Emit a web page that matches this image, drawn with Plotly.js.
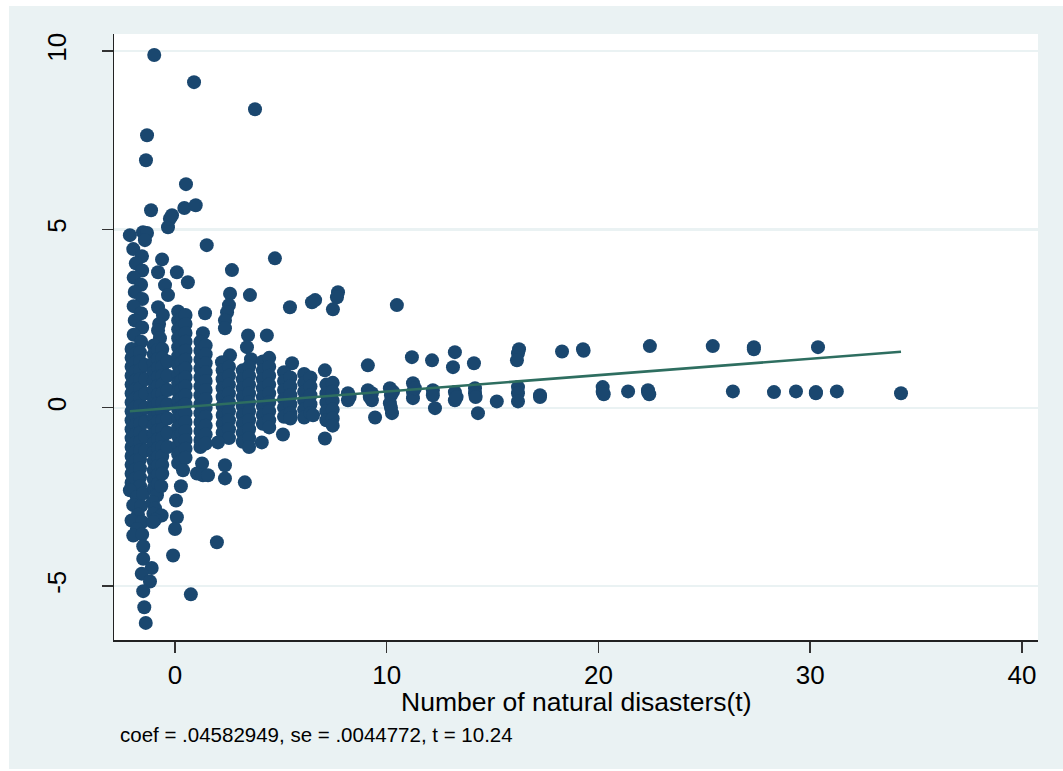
<!DOCTYPE html>
<html>
<head>
<meta charset="utf-8">
<script src="https://cdn.plot.ly/plotly-3.0.1.min.js"></script>
<style>
  html, body { margin: 0; padding: 0; background: #ffffff; }
  #chart { position: absolute; left: 9px; top: 6px; width: 1054px; height: 763px; }
</style>
</head>
<body>
<div id="chart"></div>
<script>
// ---------- data ----------
// outliers
const outX = [-0.98, 0.90, 3.78, -1.32, -1.37, 0.52, -1.13, 0.44, 0.98, -0.33, -0.24, -0.14, 1.50, 2.69, 4.72];
const outY = [9.89, 9.13, 8.37, 7.64, 6.94, 6.27, 5.54, 5.60, 5.68, 5.06, 5.30, 5.40, 4.56, 3.86, 4.19];

// column around x = -1.8
const colAx = [-2.13,-1.51,-1.32,-1.42,-1.97,-1.56,-1.85,-1.55,-1.95,-1.60,-1.90,-1.55,-1.95,-1.60,-1.90,-1.55,-1.95,-1.60,
  -2.05,-2.05,-2.05,-2.05,-2.05,-2.05,-2.05,-2.05,-2.05,-2.05,-2.05,-2.05,-2.05,-2.05,-2.05,-2.05,
  -1.85,-1.85,-1.85,-1.85,-1.85,-1.85,-1.85,-1.85,-1.85,-1.85,-1.85,-1.85,-1.85,-1.85,-1.85,
  -1.65,-1.65,-1.65,-1.65,-1.65,-1.65,-1.65,-1.65,-1.65,-1.65,-1.65,-1.65,-1.65,-1.65,-1.65,-1.65,
  -1.40,-1.40,-1.40,-1.40,-1.40,-1.40,-1.40,
  -2.13,-1.80,-1.50,-1.97,-1.60,-1.75,-2.05,-1.55,-1.80,-1.97,-1.55,-1.50,-1.50,-1.10,-1.57,-1.18,-1.50,-1.45,-1.38];
const colAy = [4.84,4.92,4.90,4.70,4.45,4.25,4.05,3.85,3.65,3.45,3.25,3.05,2.85,2.65,2.45,2.25,2.05,1.85,
  1.65,1.40,1.15,0.90,0.65,0.40,0.15,-0.10,-0.35,-0.60,-0.85,-1.10,-1.35,-1.60,-1.85,-2.10,
  1.52,1.27,1.02,0.77,0.52,0.27,0.02,-0.23,-0.48,-0.73,-0.98,-1.23,-1.48,-1.73,-1.98,
  1.55,1.30,1.05,0.80,0.55,0.30,0.05,-0.20,-0.45,-0.70,-0.95,-1.20,-1.45,-1.70,-1.95,-2.20,
  1.20,0.80,0.40,0.00,-0.40,-0.80,-1.20,
  -2.31,-2.50,-2.40,-2.73,-2.75,-3.00,-3.16,-3.20,-3.40,-3.58,-3.55,-3.88,-4.23,-4.49,-4.65,-4.87,-5.14,-5.59,-6.03];

// column around x = -0.7
const colBx = [-0.61,-0.80,-0.47,-0.33,-0.80,-0.57,-0.75,-0.80,-0.71,
  -1.00,-1.00,-1.00,-1.00,-1.00,-1.00,-1.00,-1.00,-1.00,-1.00,-1.00,-1.00,-1.00,-1.00,-1.00,-1.00,-1.00,
  -0.80,-0.80,-0.80,-0.80,-0.80,-0.80,-0.80,-0.80,-0.80,-0.80,-0.80,-0.80,-0.80,-0.80,-0.80,-0.80,
  -0.60,-0.60,-0.60,-0.60,-0.60,-0.60,-0.60,-0.60,-0.60,-0.60,-0.60,-0.60,-0.60,-0.60,-0.60,
  -0.35,-0.35,-0.35,-0.35,-0.35,-0.35,-0.35,
  -0.85,-1.05,-0.94,-1.02,-0.63,-0.94,-1.04,-0.65];
const colBy = [4.16,3.80,3.44,3.16,2.82,2.60,2.35,2.17,1.95,
  1.75,1.50,1.25,1.00,0.75,0.50,0.25,0.00,-0.25,-0.50,-0.75,-1.00,-1.25,-1.50,-1.75,-2.00,-2.25,
  1.62,1.37,1.12,0.87,0.62,0.37,0.12,-0.13,-0.38,-0.63,-0.88,-1.13,-1.38,-1.63,-1.88,-2.13,
  1.65,1.40,1.15,0.90,0.65,0.40,0.15,-0.10,-0.35,-0.60,-0.85,-1.10,-1.35,-1.60,-1.85,
  1.30,0.90,0.50,0.10,-0.30,-0.70,-1.10,
  -2.45,-2.65,-2.82,-2.97,-3.02,-3.14,-3.20,-2.20];

// column around x = 0.3
const colCx = [0.09,0.61,
  0.15,0.15,0.15,0.15,0.15,0.15,0.15,0.15,0.15,0.15,0.15,0.15,0.15,0.15,0.15,0.15,0.15,0.15,
  0.32,0.32,0.32,0.32,0.32,0.32,0.32,0.32,0.32,0.32,0.32,0.32,0.32,0.32,0.32,0.32,0.32,
  0.50,0.50,0.50,0.50,0.50,0.50,0.50,0.50,0.50,0.50,0.50,0.50,0.50,0.50,0.50,0.50,0.50,
  0.38,0.28,0.05,0.09,0.00,-0.09,0.75];
const colCy = [3.80,3.52,
  2.70,2.45,2.20,1.95,1.70,1.45,1.20,0.95,0.70,0.45,0.20,-0.05,-0.30,-0.55,-0.80,-1.05,-1.30,-1.55,
  2.52,2.27,2.02,1.77,1.52,1.27,1.02,0.77,0.52,0.27,0.02,-0.23,-0.48,-0.73,-0.98,-1.23,-1.48,
  2.60,2.35,2.10,1.85,1.60,1.35,1.10,0.85,0.60,0.35,0.10,-0.15,-0.40,-0.65,-0.90,-1.15,-1.40,
  -1.75,-2.20,-2.60,-3.07,-3.40,-4.14,-5.23];

// column around x = 1.3
const colDx = [1.42,1.32,
  1.20,1.20,1.20,1.20,1.20,1.20,1.20,1.20,1.20,1.20,1.20,1.20,1.20,
  1.45,1.45,1.45,1.45,1.45,1.45,1.45,1.45,1.45,1.45,1.45,1.45,
  1.28,1.04,1.32,1.56];
const colDy = [2.65,2.09,
  1.85,1.60,1.35,1.10,0.85,0.60,0.35,0.10,-0.15,-0.40,-0.65,-0.90,-1.10,
  1.75,1.50,1.25,1.00,0.75,0.50,0.25,0.00,-0.25,-0.50,-0.75,-1.00,
  -1.56,-1.84,-1.89,-1.89];

// column around x = 2.4
const colEx = [2.60,2.55,2.46,2.36,2.36,2.60,2.22,
  2.25,2.25,2.25,2.25,2.25,2.25,2.25,2.25,
  2.55,2.55,2.55,2.55,2.55,2.55,2.55,2.55,2.55,
  2.03,2.36,2.36,1.98];
const colEy = [3.20,2.88,2.68,2.45,2.23,1.47,1.28,
  1.05,0.80,0.55,0.30,0.05,-0.20,-0.45,-0.70,
  1.15,0.90,0.65,0.40,0.15,-0.10,-0.35,-0.60,-0.85,
  -0.97,-1.61,-1.98,-3.77];

// column around x = 3.35
const colFx = [3.54,3.45,3.40,3.59,
  3.20,3.20,3.20,3.20,3.20,3.20,3.20,3.20,3.20,
  3.50,3.50,3.50,3.50,3.50,3.50,3.50,3.50,3.50,3.50,
  3.30];
const colFy = [3.16,2.03,1.70,1.36,
  1.05,0.80,0.55,0.30,0.05,-0.20,-0.45,-0.70,-0.95,
  1.15,0.90,0.65,0.40,0.15,-0.10,-0.35,-0.60,-0.85,-1.10,
  -2.09];

// column around x = 4.3
const colGx = [4.34,
  4.15,4.15,4.15,4.15,4.15,4.15,4.15,4.15,
  4.45,4.45,4.45,4.45,4.45,4.45,4.45,4.45,4.45,
  4.10];
const colGy = [2.03,
  1.30,1.05,0.80,0.55,0.30,0.05,-0.20,-0.45,
  1.40,1.15,0.90,0.65,0.40,0.15,-0.10,-0.35,-0.55,
  -0.97];

// column around x = 5.3
const colHx = [5.43,5.53,
  5.15,5.15,5.15,5.15,5.15,5.15,
  5.45,5.45,5.45,5.45,5.45,5.45,
  5.10];
const colHy = [2.82,1.25,
  1.00,0.75,0.50,0.25,0.00,-0.25,
  0.85,0.60,0.35,0.10,-0.15,-0.30,
  -0.75];

// column around x = 6.3
const colIx = [6.47,6.62,
  6.10,6.10,6.10,6.10,6.10,6.10,
  6.40,6.40,6.40,6.40,6.40,6.52];
const colIy = [2.96,3.02,
  0.95,0.70,0.45,0.20,-0.05,-0.27,
  0.85,0.60,0.35,0.10,-0.15,-0.21];

// column around x = 7.3
const colJx = [7.70,7.65,7.46,7.08,
  7.15,7.15,7.15,7.15,7.15,
  7.45,7.45,7.45,7.45,7.45,7.45,
  7.08];
const colJy = [3.24,3.10,2.76,1.05,
  0.65,0.40,0.15,-0.10,-0.35,
  0.70,0.45,0.20,-0.05,-0.30,-0.50,
  -0.86];

// sparse points to the right
const restX = [8.17,8.17,8.25,
  9.11,9.11,9.30,9.30,9.20,9.45,
  10.48,10.15,10.20,10.15,10.25,10.30,10.20,
  11.19,11.24,11.24,11.24,11.33,
  12.14,12.18,12.18,12.28,
  13.22,13.13,13.22,13.22,13.30,
  14.12,14.17,14.17,14.20,14.31,
  15.20,
  16.25,16.20,16.15,16.20,16.20,16.20,
  17.24,17.24,
  18.28,19.27,19.30,
  20.20,20.20,20.25,
  21.40,
  22.43,22.34,22.34,22.40,
  25.40,26.35,27.34,27.34,28.29,29.33,30.27,30.27,30.37,31.26,34.29];
const restY = [0.41,0.21,0.30,
  1.19,0.49,0.41,0.21,0.30,-0.27,
  2.88,0.55,0.35,0.13,-0.15,0.45,0.00,
  1.42,0.69,0.44,0.27,0.55,
  1.33,0.49,0.35,-0.01,
  1.56,1.14,0.44,0.21,0.30,
  1.25,0.55,0.41,0.30,-0.15,
  0.18,
  1.64,1.53,1.33,0.58,0.41,0.18,
  0.35,0.30,
  1.58,1.64,1.60,
  0.58,0.44,0.38,
  0.46,
  1.73,0.44,0.49,0.38,
  1.73,0.46,1.70,1.64,0.44,0.46,0.44,0.41,1.70,0.46,0.41];

// regression result shown in the note
const coef = 0.04582949;
const noteText = 'coef = .04582949, se = .0044772, t = 10.24';
const xTitle = 'Number of natural disasters(t)';
const xTicks = [0, 10, 20, 30, 40];
const yTicks = [-5, 0, 5, 10];

// ---------- build ----------
const allX = [].concat(outX, colAx, colBx, colCx, colDx, colEx, colFx, colGx, colHx, colIx, colJx, restX);
const allY = [].concat(outY, colAy, colBy, colCy, colDy, colEy, colFy, colGy, colHy, colIy, colJy, restY);

const xMin = Math.min.apply(null, allX);
const xMax = Math.max.apply(null, allX);
const lineX = [xMin, xMax];
const lineY = lineX.map(v => coef * v);

const navy = '#1a476f';
const fitColor = '#2e6e60';
const bg = '#eaf2f3';
const fontFam = '"Liberation Sans", Arial, Helvetica, sans-serif';

const traces = [
  { type: 'scatter', mode: 'markers', x: allX, y: allY,
    marker: { color: navy, size: 14, line: { width: 0 } }, hoverinfo: 'skip' },
  { type: 'scatter', mode: 'lines', x: lineX, y: lineY,
    line: { color: fitColor, width: 2.6 }, hoverinfo: 'skip' }
];

const layout = {
  width: 1054, height: 763,
  margin: { l: 105, r: 25, t: 28, b: 129 },
  paper_bgcolor: bg,
  plot_bgcolor: '#ffffff',
  showlegend: false,
  font: { family: fontFam, size: 26, color: '#000000' },
  xaxis: {
    range: [-2.88, 40.76], tickvals: xTicks, ticktext: xTicks.map(String),
    ticks: 'outside', ticklen: 11, tickwidth: 1.4, tickcolor: '#333333',
    showline: true, linecolor: '#222222', linewidth: 1.5,
    showgrid: false, zeroline: false,
    tickfont: { size: 26, family: fontFam }
  },
  yaxis: {
    range: [-6.51, 10.48], tickvals: yTicks, ticktext: yTicks.map(String),
    tickangle: -90,
    ticks: 'outside', ticklen: 11, tickwidth: 1.4, tickcolor: '#333333',
    showline: true, linecolor: '#222222', linewidth: 1.5,
    showgrid: true, gridcolor: bg, gridwidth: 2.2, zeroline: false,
    tickfont: { size: 26, family: fontFam },
    ticklabelstandoff: 25
  },
  annotations: [
    {
      text: xTitle, xref: 'paper', yref: 'paper',
      x: 0.5, y: -0.1023, xanchor: 'center', yanchor: 'middle',
      showarrow: false, font: { size: 26.5, family: fontFam, color: '#000000' }
    },
    {
      text: noteText, xref: 'paper', yref: 'paper',
      x: 0.0043, y: -0.1555, xanchor: 'left', yanchor: 'middle',
      showarrow: false, font: { size: 20.5, family: fontFam, color: '#000000' }
    }
  ]
};

Plotly.newPlot('chart', traces, layout, { displayModeBar: false, staticPlot: true });
</script>
</body>
</html>
